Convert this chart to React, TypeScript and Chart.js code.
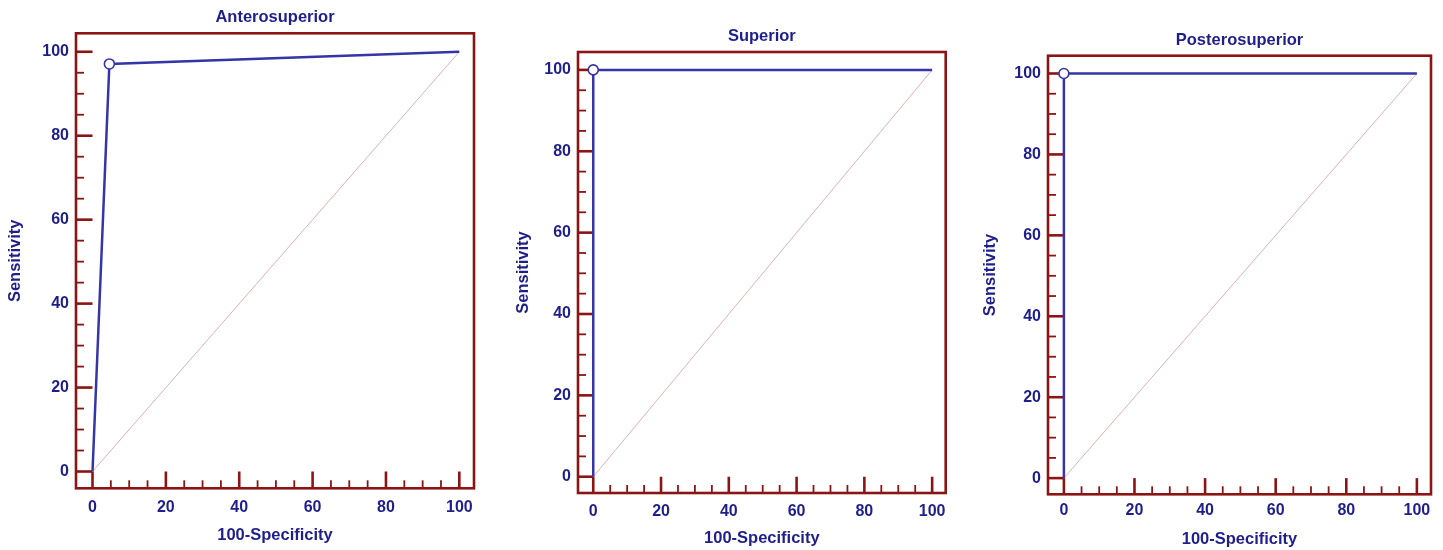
import React, { useEffect, useRef } from "react";
import { Chart, registerables } from "chart.js";

Chart.register(...registerables);

// ---- data ----
const panelTitles = ["Anterosuperior", "Superior", "Posterosuperior"];
const fprAnterosuperior = [0, 4.6, 100];
const tprAnterosuperior = [0, 97.1, 100];
const fprSuperior = [0, 0, 100];
const tprSuperior = [0, 100, 100];
const fprPosterosuperior = [0, 0, 100];
const tprPosterosuperior = [0, 100, 100];
const criterionIndex = [1, 1, 1];
const diagonalX = [0, 100];
const diagonalY = [0, 100];
const majorTicks = [0, 20, 40, 60, 80, 100];
const minorTicks = [5, 10, 15, 25, 30, 35, 45, 50, 55, 65, 70, 75, 85, 90, 95];
const xAxisTitle = "100-Specificity";
const yAxisTitle = "Sensitivity";

const fprSeries = [fprAnterosuperior, fprSuperior, fprPosterosuperior];
const tprSeries = [tprAnterosuperior, tprSuperior, tprPosterosuperior];

// ---- style ----
const FONT = "'Liberation Sans', Arial, sans-serif";
const textColor = "#1f1f8c";
const frameColor = "#8b1414";
const curveColor = "#3535a8";
const diagColor = "#e2b0b0";

interface Geo {
  left: number;
  width: number;
  axisW: number;
  rightPad: number;
  titlePadTop: number;
  titlePadBottom: number;
  xAxisH: number;
  xTickPad: number;
  xTitlePadBottom: number;
  yTitlePadTop: number;
}

const geos: Geo[] = [
  { left: 0, width: 480, axisW: 76, rightPad: 6, titlePadTop: 7.4, titlePadBottom: 6.1, xAxisH: 61.7, xTickPad: 9.8, xTitlePadBottom: 4.4, yTitlePadTop: 5.9 },
  { left: 505, width: 450, axisW: 73, rightPad: 9.3, titlePadTop: 26.1, titlePadBottom: 6.1, xAxisH: 57, xTickPad: 9.1, xTitlePadBottom: 2.1, yTitlePadTop: 8.1 },
  { left: 975, width: 468, axisW: 73, rightPad: 12, titlePadTop: 30.1, titlePadBottom: 5.8, xAxisH: 55.7, xTickPad: 7.1, xTitlePadBottom: 1.1, yTitlePadTop: 5.1 },
];

const framePlugin = {
  id: "frameTicks",
  beforeDatasetsDraw(chart: any) {
    const { ctx, chartArea: a, scales } = chart;
    const x = scales.x;
    const y = scales.y;
    const x0 = x.getPixelForValue(0);
    const y0 = y.getPixelForValue(0);
    const seg = (x1: number, y1: number, x2: number, y2: number) => {
      ctx.beginPath();
      ctx.moveTo(x1, y1);
      ctx.lineTo(x2, y2);
      ctx.stroke();
    };
    ctx.save();
    ctx.strokeStyle = frameColor;
    ctx.lineWidth = 2.6;
    majorTicks.forEach((v) => {
      const px = x.getPixelForValue(v);
      seg(px, a.bottom, px, y0);
      const py = y.getPixelForValue(v);
      seg(a.left, py, x0, py);
    });
    ctx.lineWidth = 1.8;
    minorTicks.forEach((v) => {
      const px = x.getPixelForValue(v);
      seg(px, a.bottom, px, a.bottom - 8);
      const py = y.getPixelForValue(v);
      seg(a.left, py, a.left + 8, py);
    });
    ctx.lineWidth = 2.6;
    ctx.strokeRect(a.left, a.top, a.right - a.left, a.bottom - a.top);
    ctx.restore();
  },
};

function Panel({ idx }: { idx: number }) {
  const ref = useRef<HTMLCanvasElement | null>(null);
  const g = geos[idx];
  useEffect(() => {
    if (!ref.current) return;
    const fx = fprSeries[idx];
    const ty = tprSeries[idx];
    const chart = new Chart(ref.current, {
      type: "line",
      data: {
        datasets: [
          {
            label: "ROC",
            data: fx.map((v, i) => ({ x: v, y: ty[i] })),
            borderColor: curveColor,
            borderWidth: 2.5,
            tension: 0,
            pointRadius: fx.map((_, i) => (i === criterionIndex[idx] ? 5 : 0)),
            pointBackgroundColor: "#ffffff",
            pointBorderColor: curveColor,
            pointBorderWidth: 1.6,
            order: 1,
          },
          {
            label: "Reference",
            data: diagonalX.map((v, i) => ({ x: v, y: diagonalY[i] })),
            borderColor: diagColor,
            borderWidth: 1,
            pointRadius: 0,
            tension: 0,
            order: 2,
          },
        ],
      },
      options: {
        animation: false,
        responsive: false,
        devicePixelRatio: 1,
        layout: { padding: { left: 0, top: 0, bottom: 0, right: g.rightPad } },
        plugins: {
          legend: { display: false },
          tooltip: { enabled: false },
          title: {
            display: true,
            text: panelTitles[idx],
            fullSize: false,
            color: textColor,
            font: { family: FONT, size: 16.5, weight: "bold", lineHeight: 1.2 },
            padding: { top: g.titlePadTop, bottom: g.titlePadBottom },
          },
        },
        scales: {
          x: {
            type: "linear",
            min: -4.5,
            max: 104,
            afterBuildTicks: (s: any) => {
              s.ticks = majorTicks.map((v) => ({ value: v }));
            },
            afterFit: (s: any) => {
              s.height = g.xAxisH;
              s.paddingLeft = 0;
              s.paddingRight = 0;
            },
            grid: { display: false, drawTicks: false },
            border: { display: false },
            ticks: {
              color: textColor,
              font: { family: FONT, size: 16, weight: "bold", lineHeight: 1.2 },
              padding: g.xTickPad,
              maxRotation: 0,
              autoSkip: false,
            },
            title: {
              display: true,
              text: xAxisTitle,
              color: textColor,
              font: { family: FONT, size: 16.5, weight: "bold", lineHeight: 1.2 },
              padding: { top: 0, bottom: g.xTitlePadBottom },
            },
          },
          y: {
            type: "linear",
            min: -4,
            max: 104.4,
            afterBuildTicks: (s: any) => {
              s.ticks = majorTicks.map((v) => ({ value: v }));
            },
            afterFit: (s: any) => {
              s.width = g.axisW;
              s.paddingTop = 0;
              s.paddingBottom = 0;
            },
            grid: { display: false, drawTicks: false },
            border: { display: false },
            ticks: {
              color: textColor,
              font: { family: FONT, size: 16, weight: "bold", lineHeight: 1.2 },
              padding: 7,
              autoSkip: false,
            },
            title: {
              display: true,
              text: yAxisTitle,
              color: textColor,
              font: { family: FONT, size: 16.5, weight: "bold", lineHeight: 1.2 },
              padding: { top: g.yTitlePadTop, bottom: 0 },
            },
          },
        },
      } as any,
      plugins: [framePlugin],
    });
    return () => chart.destroy();
  }, [idx]);
  return (
    <canvas
      ref={ref}
      width={g.width}
      height={550}
      style={{ position: "absolute", left: g.left, top: 0, width: g.width, height: 550 }}
    />
  );
}

export default function App() {
  return (
    <div style={{ position: "absolute", left: 0, top: 0, width: 1443, height: 550, background: "#ffffff" }}>
      {panelTitles.map((_, i) => (
        <Panel key={i} idx={i} />
      ))}
    </div>
  );
}
